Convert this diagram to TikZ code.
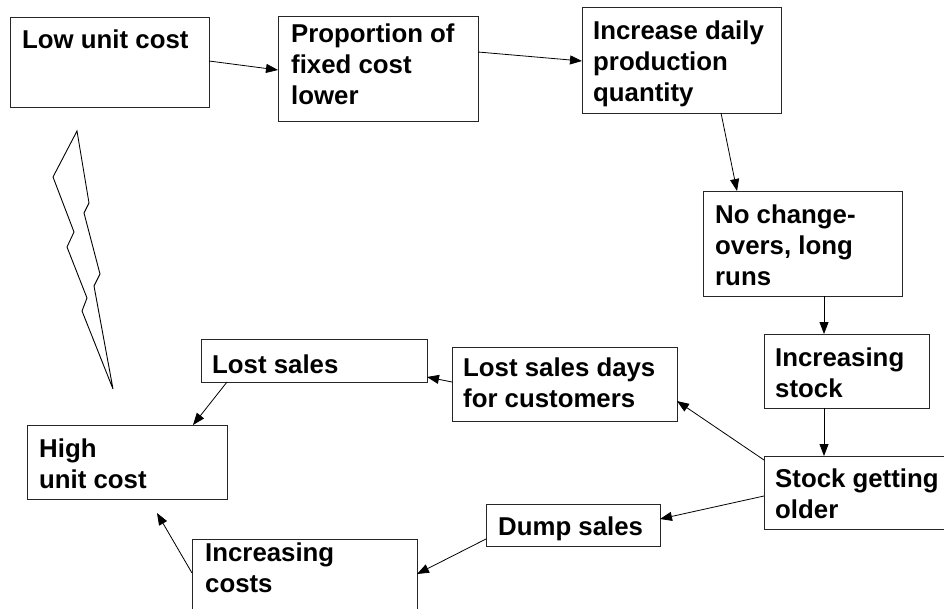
\documentclass[tikz,border=0pt]{standalone}
\usepackage{fontspec}
\setmainfont{Liberation Sans}
\usetikzlibrary{arrows.meta}
\begin{document}
\begin{tikzpicture}[x=1pt,y=-1pt,
  box/.style={draw=black!85, line width=0.9pt, rectangle, inner sep=0pt, outer sep=0pt, anchor=north west},
  txt/.style={anchor=north west, inner sep=0pt, align=left, font=\bfseries\fontsize{25.8}{31}\selectfont},
  arr/.style={draw=black, line width=0.8pt, -{Triangle[length=12pt,width=9pt]}},
  bolt/.style={draw=black, line width=0.9pt, line join=miter}]
\useasboundingbox (0,0) rectangle (944,609);
\clip (0,0) rectangle (944,609);

% boxes
\node[box, minimum width=199pt, minimum height=90pt] (b1) at (10,17) {};
\node[txt] (t1) at (22,30) {Low unit cost};

\node[box, minimum width=200pt, minimum height=105pt] (b2) at (278,16) {};
\node[txt] (t2) at (291,24) {Proportion of\\fixed cost\\lower};

\node[box, minimum width=199pt, minimum height=106pt] (b3) at (582,7) {};
\node[txt] (t3) at (593,21) {Increase daily\\production\\quantity};

\node[box, minimum width=199pt, minimum height=105pt] (b4) at (703,191) {};
\node[txt] (t4) at (715,205) {No change-\\overs, long\\runs};

\node[box, minimum width=165pt, minimum height=74pt] (b5) at (764,334) {};
\node[txt] (t5) at (775,348) {Increasing\\stock};

\node[box, minimum width=186pt, minimum height=73pt] (b6) at (764,456) {};
\node[txt] (t6) at (775,469) {Stock getting\\older};

\node[box, minimum width=174pt, minimum height=42pt] (b7) at (486,504) {};
\node[txt] (t7) at (498,517) {Dump sales};

\node[box, minimum width=225pt, minimum height=74pt] (b8) at (452,347) {};
\node[txt] (t8) at (463,358) {Lost sales days\\for customers};

\node[box, minimum width=226pt, minimum height=43pt] (b9) at (201,339) {};
\node[txt] (t9) at (212,355) {Lost sales};

\node[box, minimum width=200pt, minimum height=74pt] (b10) at (27,425) {};
\node[txt] (t10) at (39,439) {High\\unit cost};

\node[box, minimum width=225pt, minimum height=81pt] (b11) at (192,539) {};
\node[txt] (t11) at (205,543) {Increasing\\costs};

\coordinate (c1) at (157,513);

% connectors
\draw[arr] ([yshift=1pt]b1.east) -- ([yshift=-1.5pt]b2.west);
\draw[arr] ([yshift=16.5pt]b2.east) -- ([yshift=-1pt]b3.west);
\draw[arr] ([xshift=39.5pt]b3.south) -- ([xshift=-65.5pt]b4.north);
\draw[arr] ([xshift=21.5pt]b4.south) -- ([xshift=-22.5pt]b5.north);
\draw[arr] ([xshift=-22.5pt]b5.south) -- ([xshift=-33pt]b6.north);
\draw[arr] ([yshift=32.5pt]b6.west) -- ([yshift=-17pt]b8.east);
\draw[arr] ([yshift=-3.5pt]b6.west) -- ([yshift=6pt]b7.east);
\draw[arr] ([yshift=-14pt]b7.west) -- ([yshift=5.5pt]b11.east);
\draw[arr] ([yshift=2pt]b8.west) -- ([yshift=-16.5pt]b9.east);
\draw[arr] ([xshift=-87pt]b9.south) -- ([xshift=66pt]b10.north);
\draw[arr] ([yshift=6.5pt]b11.west) -- (c1);

% lightning bolt
\draw[bolt] (77,131) -- (89,203) -- (84,213) -- (100,274) -- (94,286) -- (113,389)
  -- (82,311) -- (87,298) -- (67,247) -- (74,232) -- (53,177) -- cycle;
\end{tikzpicture}
\end{document}
